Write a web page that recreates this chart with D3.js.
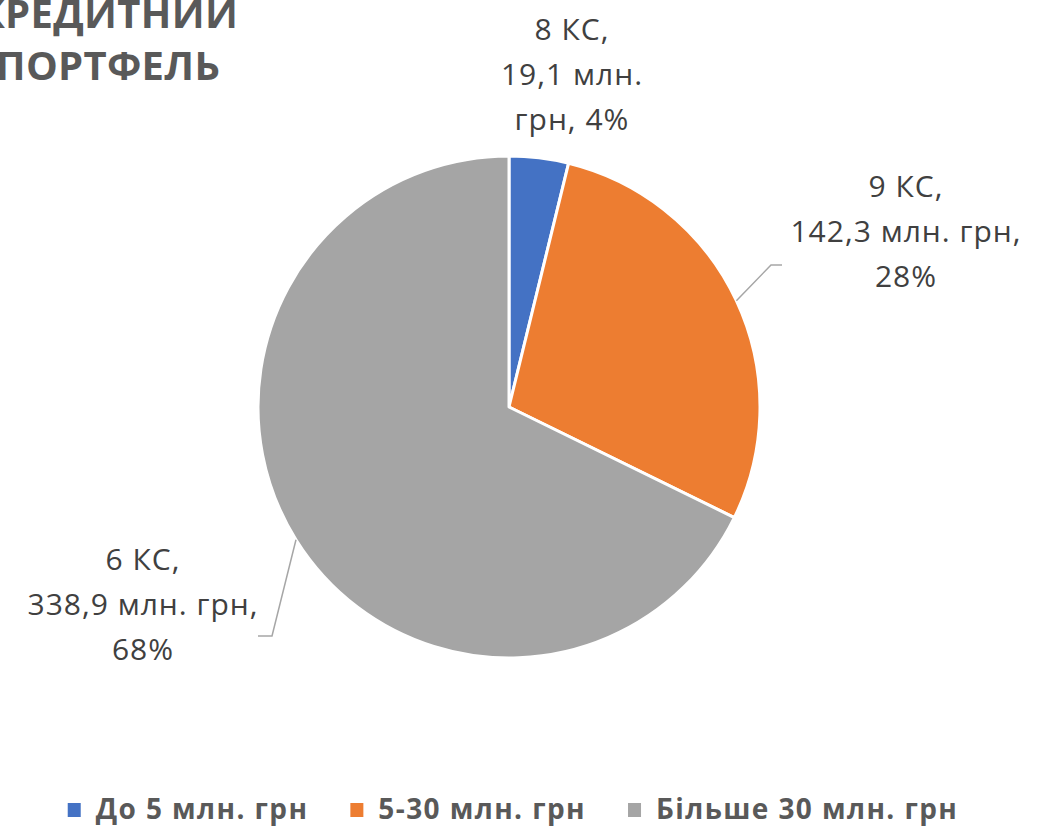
<!DOCTYPE html>
<html>
<head>
<meta charset="utf-8">
<script src="https://cdn.jsdelivr.net/npm/d3@7"></script>
<style>
  html, body { margin: 0; padding: 0; background: #fff; overflow: hidden; }
  svg { display: block; }
</style>
</head>
<body>
<svg id="chart" width="1053" height="829"></svg>
<script>
// chart data
var categories = ['До 5 млн. грн', '5-30 млн. грн', 'Більше 30 млн. грн'];
var amounts = [19.1, 142.3, 338.9];
var unionCounts = [8, 9, 6];
var shares = ['4%', '28%', '68%'];
var colors = ['#4472C4', '#ED7D31', '#A5A5A5'];
var titleLines = ['КРЕДИТНИЙ', 'ПОРТФЕЛЬ'];

// label text is split into lines the way the source chart wraps them
var labelLines = [
  [unionCounts[0] + ' КС,', '19,1 млн.', 'грн, ' + shares[0]],
  [unionCounts[1] + ' КС,', '142,3 млн. грн,', shares[1]],
  [unionCounts[2] + ' КС,', '338,9 млн. грн,', shares[2]]
];

// layout: label placement relative to pie centre, leader elbows
var labelPos = [
  { dx: 63, dy: -367 },
  { dx: 397, dy: -210 },
  { dx: -366, dy: 163 }
];
var leaders = [
  null,
  { elbow: [262, -142], end: [273, -142] },
  { elbow: [-237, 229], end: [-251, 229] }
];

var svg = d3.select('#chart');
var cx = 509, cy = 407, radius = 251;
var textColor = '#404040';

// title (partly cut off on the left and top, as in the source)
svg.append('text')
  .attr('font-family', 'Open Sans')
  .attr('font-weight', 700)
  .attr('font-size', 40)
  .attr('letter-spacing', 0.3)
  .attr('fill', '#595959')
  .attr('text-anchor', 'middle')
  .selectAll('tspan')
  .data(titleLines)
  .enter()
  .append('tspan')
  .attr('x', 108)
  .attr('y', function(d, i) { return 28 + i * 52; })
  .text(function(d) { return d; });

var pie = d3.pie().sort(null).value(function(d) { return d; });
var arcs = pie(amounts);
var arc = d3.arc().innerRadius(0).outerRadius(radius);

var g = svg.append('g').attr('transform', 'translate(' + cx + ',' + cy + ')');

g.selectAll('path.slice')
  .data(arcs)
  .enter()
  .append('path')
  .attr('class', 'slice')
  .attr('d', arc)
  .attr('fill', function(d, i) { return colors[i]; })
  .attr('stroke', '#fff')
  .attr('stroke-width', 3)
  .attr('stroke-linejoin', 'round');

// leader lines start on the slice edge at its mid-angle
arcs.forEach(function(d, i) {
  if (!leaders[i]) return;
  var a = (d.startAngle + d.endAngle) / 2;
  var start = [radius * Math.sin(a), -radius * Math.cos(a)];
  g.append('polyline')
    .attr('points', [start, leaders[i].elbow, leaders[i].end].map(function(p) {
      return p.join(',');
    }).join(' '))
    .attr('fill', 'none')
    .attr('stroke', '#A6A6A6')
    .attr('stroke-width', 1.5);
});

// data labels
var labels = g.selectAll('text.label')
  .data(labelLines)
  .enter()
  .append('text')
  .attr('class', 'label')
  .attr('font-family', 'Open Sans')
  .attr('font-size', 30)
  .attr('letter-spacing', 1)
  .attr('fill', textColor)
  .attr('text-anchor', 'middle');

labels.selectAll('tspan')
  .data(function(d, i) {
    return d.map(function(t) { return { text: t, pos: labelPos[i] }; });
  })
  .enter()
  .append('tspan')
  .attr('x', function(d) { return d.pos.dx; })
  .attr('y', function(d, j) { return d.pos.dy + j * 45; })
  .text(function(d) { return d.text; });

// legend, laid out left to right from measured widths
var legend = svg.append('g').attr('class', 'legend');
var items = legend.selectAll('g')
  .data(categories)
  .enter()
  .append('g');

items.append('rect')
  .attr('width', 13)
  .attr('height', 14)
  .attr('y', 803)
  .attr('fill', function(d, i) { return colors[i]; });

items.append('text')
  .attr('x', 28)
  .attr('y', 819)
  .attr('font-family', 'Open Sans')
  .attr('font-weight', 700)
  .attr('font-size', 28)
  .attr('letter-spacing', 1.4)
  .attr('fill', '#595959')
  .text(function(d) { return d; });

var widths = [];
items.each(function() {
  widths.push(d3.select(this).select('text').node().getComputedTextLength() + 28);
});
var gap = 42;
var total = d3.sum(widths) + gap * (widths.length - 1);
var x0 = 513 - total / 2;
items.attr('transform', function(d, i) {
  var x = x0 + d3.sum(widths.slice(0, i)) + gap * i;
  return 'translate(' + x + ',0)';
});
</script>
</body>
</html>
